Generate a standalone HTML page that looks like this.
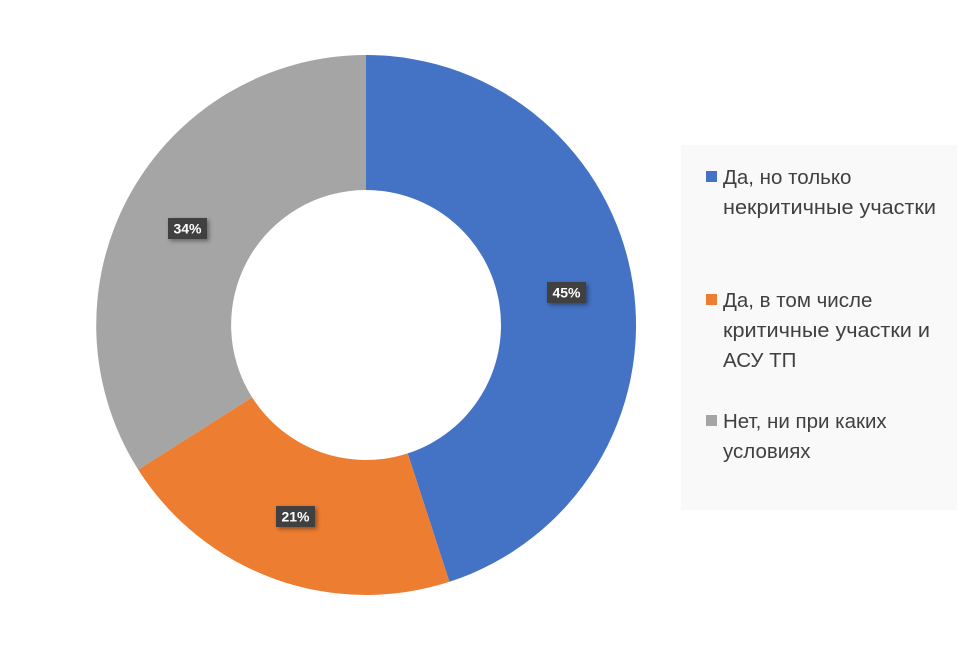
<!DOCTYPE html>
<html><head><meta charset="utf-8"><style>
body{margin:0;background:#fff;width:972px;height:652px;overflow:hidden;font-family:"Liberation Sans","DejaVu Sans",sans-serif}
</style></head><body>
<svg width="972" height="652" xmlns="http://www.w3.org/2000/svg" style="position:absolute;left:0;top:0">
<defs><filter id="sh" x="-20%" y="-20%" width="150%" height="160%"><feDropShadow dx="2" dy="2" stdDeviation="2" flood-color="#000" flood-opacity="0.4"/></filter></defs>
<path d="M366,55 A270,270 0 0 1 449.4,581.8 L407.7,453.4 A135,135 0 0 0 366,190 Z" fill="#4472c4"/>
<path d="M449.4,581.8 A270,270 0 0 1 138.2,469.6 L252.1,397.3 A135,135 0 0 0 407.7,453.4 Z" fill="#ed7d31"/>
<path d="M138.2,469.6 A270,270 0 0 1 366,55 L366,190 A135,135 0 0 0 252.1,397.3 Z" fill="#a5a5a5"/>
<g font-weight="bold" font-size="14" fill="#fff" text-anchor="middle">
<rect x="547" y="282" width="39" height="21" fill="#404040" filter="url(#sh)"/><text x="566.5" y="297.5">45%</text>
<rect x="276" y="506" width="39" height="21" fill="#404040" filter="url(#sh)"/><text x="295.5" y="521.5">21%</text>
<rect x="168" y="218" width="39" height="21" fill="#404040" filter="url(#sh)"/><text x="187.5" y="233.5">34%</text>
</g>
<rect x="681" y="145" width="276" height="365" fill="#f9f9f9"/>
<g font-size="20.5" fill="#404040">
<rect x="706" y="171" width="11" height="11" fill="#4472c4"/>
<text x="723" y="184">Да, но только</text><text x="723" y="214" textLength="213" lengthAdjust="spacingAndGlyphs">некритичные участки</text>
<rect x="706" y="294" width="11" height="11" fill="#ed7d31"/>
<text x="723" y="307">Да, в том числе</text><text x="723" y="337" textLength="207" lengthAdjust="spacingAndGlyphs">критичные участки и</text><text x="723" y="367">АСУ ТП</text>
<rect x="706" y="415" width="11" height="11" fill="#a5a5a5"/>
<text x="723" y="428">Нет, ни при каких</text><text x="723" y="458">условиях</text>
</g>
</svg>
</body></html>
